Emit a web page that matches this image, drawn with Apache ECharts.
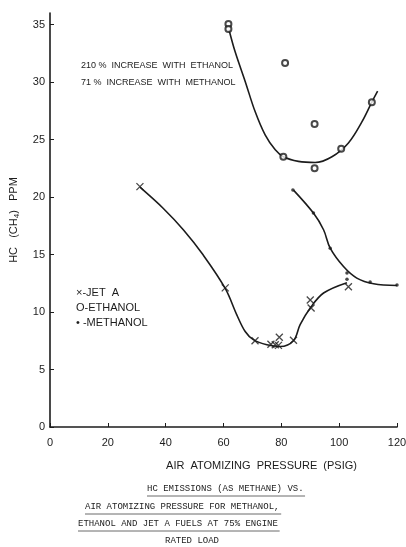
<!DOCTYPE html>
<html>
<head>
<meta charset="utf-8">
<script src="https://cdn.jsdelivr.net/npm/echarts@6/dist/echarts.min.js"></script>
<style>
  html, body { margin: 0; padding: 0; background: #fff; }
  #chart { width: 406px; height: 547px; }
</style>
</head>
<body>
<div id="chart"></div>
<script>
// measured points (air atomizing pressure psig, HC ppm)
var jetPts = [[31.1, 20.9], [60.6, 12.1], [70.9, 7.5], [76.4, 7.2], [77.9, 7.15], [79.0, 7.1],
	[79.3, 7.8], [84.2, 7.55], [90.0, 11.05], [90.3, 10.35], [103.2, 12.2]];
var ethPts = [[61.7, 35.05], [61.7, 34.6], [81.3, 31.65], [80.7, 23.5], [91.5, 26.35],
	[91.5, 22.5], [100.7, 24.2], [111.3, 28.25]];
var methPts = [[84.0, 20.6], [91.1, 18.6], [96.9, 15.55], [102.7, 13.4], [102.7, 12.85],
	[110.7, 12.6], [120, 12.35]];

// hand drawn fit curves
var jetCurve = [[31.1, 20.85], [39.2, 19.0], [46.1, 17.15], [53.0, 14.95], [60.6, 12.05],
	[64.6, 9.75], [67.5, 8.3], [70.3, 7.6], [75.0, 7.15], [79.6, 7.0], [84.2, 7.5],
	[86.5, 8.9], [90.0, 10.35], [94.6, 11.65], [102.7, 12.55]];
var ethCurve = [[61.9, 34.55], [64.0, 32.65], [67.5, 30.05], [70.9, 27.45], [74.4, 25.4],
	[77.9, 24.1], [80.7, 23.5], [85.9, 23.1], [91.7, 23.0], [97.5, 23.5], [103.2, 24.7],
	[107.9, 26.55], [111.3, 28.25], [113.3, 29.2]];
var methCurve = [[84.2, 20.6], [91.1, 18.6], [94.6, 17.15], [96.9, 15.55], [101.5, 13.95],
	[106.1, 12.95], [111.9, 12.45], [120, 12.3]];

var xTicks = [0, 20, 40, 60, 80, 100, 120];
var yTicks = [0, 5, 10, 15, 20, 25, 30, 35];

var legendLines = ['\u00d7-JET  A', 'O-ETHANOL', '\u2022 -METHANOL'];
var noteLines = ['210 %  INCREASE  WITH  ETHANOL', '71 %  INCREASE  WITH  METHANOL'];
var captionLines = ['HC EMISSIONS (AS METHANE) VS.', 'AIR ATOMIZING PRESSURE FOR METHANOL,',
	'ETHANOL AND JET A FUELS AT 75% ENGINE', 'RATED LOAD'];

var ink = '#1c1c1c';
var crossSym = 'path://M0,0L10,10M10,0L0,10';
var letterFont = 'Liberation Sans';

var chart = echarts.init(document.getElementById('chart'));

function lineSeries(data) {
	return {
		type: 'line',
		data: data,
		smooth: 0.35,
		showSymbol: false,
		lineStyle: { color: ink, width: 1.6 },
		silent: true,
		z: 2
	};
}

// caption layout: left edge and top of each typed line
var capX = [147, 85, 78, 165];
var capY = [484, 502, 519, 536];
var graphics = [];
captionLines.forEach(function(t, i) {
	graphics.push({
		type: 'text', left: capX[i], top: capY[i],
		style: { text: t, font: '9px "Liberation Mono"', fill: ink }
	});
	graphics.push({
		type: 'line',
		shape: { x1: capX[i], y1: capY[i] + 12, x2: capX[i] + t.length * 5.45, y2: capY[i] + 12 },
		style: { stroke: '#444', lineWidth: 0.8 }
	});
});
noteLines.forEach(function(t, i) {
	graphics.push({
		type: 'text', left: 81, top: 61 + i * 17,
		style: { text: t, font: '9px "' + letterFont + '"', fill: ink }
	});
});
legendLines.forEach(function(t, i) {
	graphics.push({
		type: 'text', left: 76, top: 287 + i * 15,
		style: { text: t, font: '11px "' + letterFont + '"', fill: ink }
	});
});

var option = {
	animation: false,
	backgroundColor: '#fff',
	grid: { left: 50, right: 9, top: 13, bottom: 120, outerBoundsMode: 'none' },
	xAxis: {
		type: 'value',
		min: 0, max: 120, interval: 20,
		name: 'AIR  ATOMIZING  PRESSURE  (PSIG)',
		nameLocation: 'middle',
		nameGap: 33,
		nameTextStyle: { color: ink, fontSize: 11, fontFamily: letterFont, padding: [0, 0, 0, 76] },
		axisLine: { lineStyle: { color: ink, width: 1.6 } },
		axisTick: { inside: true, length: 4, lineStyle: { color: ink }, customValues: xTicks },
		axisLabel: { color: ink, fontSize: 11, fontFamily: letterFont, margin: 10, customValues: xTicks },
		splitLine: { show: false }
	},
	yAxis: {
		type: 'value',
		min: 0, max: 36, interval: 5,
		name: '{a|HC   (CH}{s|4}{a|)   PPM}',
		nameLocation: 'middle',
		nameGap: 29,
		nameTextStyle: {
			color: ink,
			rich: {
				a: { fontSize: 11, fontFamily: letterFont, color: ink },
				s: { fontSize: 8, fontFamily: letterFont, color: ink, padding: [7, 0, 0, 0] }
			}
		},
		axisLine: { lineStyle: { color: ink, width: 1.6 } },
		axisTick: { inside: true, length: 4, lineStyle: { color: ink }, customValues: yTicks },
		axisLabel: { color: ink, fontSize: 11, fontFamily: letterFont, margin: 5, customValues: yTicks },
		splitLine: { show: false }
	},
	series: [
		lineSeries(jetCurve),
		lineSeries(ethCurve),
		lineSeries(methCurve),
		{
			type: 'scatter', data: jetPts, symbol: crossSym, symbolSize: 7,
			itemStyle: { color: 'none', borderColor: ink, borderWidth: 1.3 }, z: 3
		},
		{
			type: 'scatter', data: ethPts, symbol: 'emptyCircle', symbolSize: 6,
			itemStyle: { color: ink, borderWidth: 1.4 }, z: 3
		},
		{
			type: 'scatter', data: methPts, symbol: 'circle', symbolSize: 3.5,
			itemStyle: { color: ink }, z: 3
		}
	],
	graphic: graphics
};
chart.setOption(option);
</script>
</body>
</html>
